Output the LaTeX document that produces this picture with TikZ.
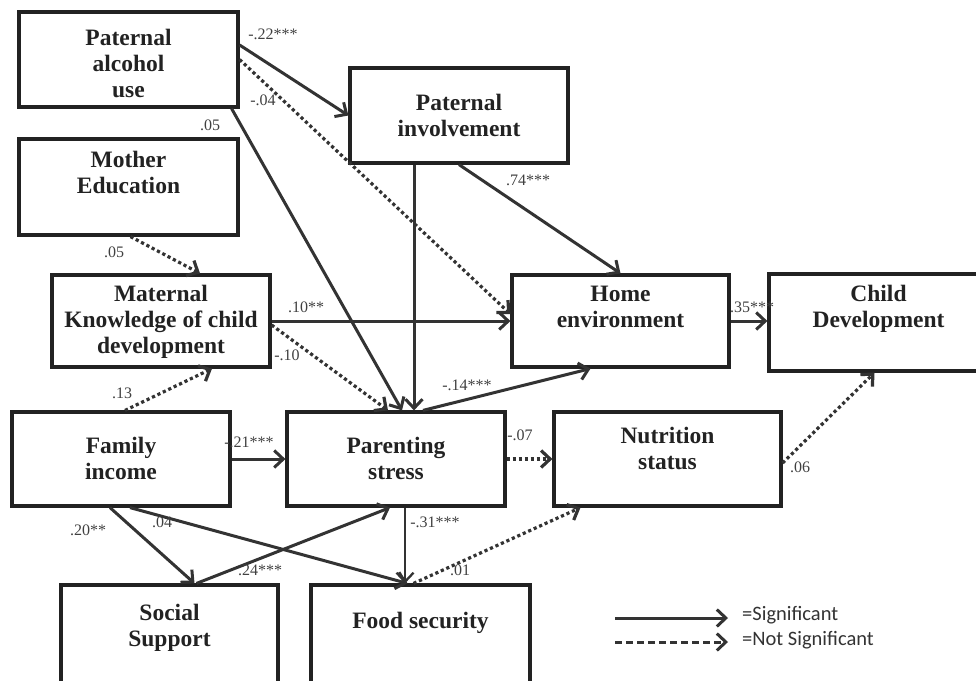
\documentclass[tikz,border=0pt]{standalone}
\usepackage{fontspec}
\setmainfont{Liberation Serif}
\newfontfamily\legendfont{Carlito}
\usetikzlibrary{arrows.meta}

\definecolor{boxc}{HTML}{222222}
\definecolor{linec}{HTML}{333333}
\definecolor{lbl}{HTML}{404040}

% box text: width, height, first baseline from top, lines
\newcommand{\boxlines}[4]{\parbox[c][#2pt][t]{#1pt}{\centering\rule{0pt}{#3pt}#4}}

\begin{document}
\begin{tikzpicture}[x=1pt,y=-1pt,
var/.style={draw=boxc,line width=3.2pt,inner sep=0pt,text=boxc,font=\bfseries\fontsize{23.5}{26}\selectfont},
sig/.style={draw=linec,line width=3pt,-{Straight Barb[length=9pt,width=17pt]}},
nonsig/.style={sig,line width=3.2pt,dash pattern=on 3.2pt off 2.8pt},
coef/.style={inner sep=0pt,text=lbl,font=\fontsize{16}{16}\selectfont},
legend/.style={inner sep=0pt,anchor=west,text=linec,font=\legendfont\fontsize{20.5}{20}\selectfont}]
\clip (0,0) rectangle (976,680);

% variables
\node[var] (pa) at (128.5,59.5) {\boxlines{219}{95}{33}{Paternal\\alcohol\\use}};
\node[var] (me) at (128.5,187) {\boxlines{219}{96}{28}{Mother\\Education}};
\node[var] (pi) at (459,115.5) {\boxlines{218}{95}{42}{Paternal\\involvement}};
\node[var] (mk) at (161,321) {\boxlines{218}{92}{26}{Maternal\\Knowledge of child\\development}};
\node[var] (he) at (620.5,321) {\boxlines{217}{92}{26}{Home\\environment}};
\node[var] (cd) at (878.5,322.5) {\boxlines{219}{97}{27}{Child\\Development}};
\node[var] (fi) at (121,459) {\boxlines{218}{94}{41}{Family\\income}};
\node[var] (ps) at (396,459) {\boxlines{218}{94}{41}{Parenting\\stress}};
\node[var] (nut) at (667.5,459) {\boxlines{227}{94}{31}{Nutrition\\status}};
\node[var] (ss) at (169.5,634) {\boxlines{217}{98}{35}{Social\\Support}};
\node[var] (fs) at (420.5,634) {\boxlines{219}{98}{43}{Food security}};

% paths
\draw[sig] ([yshift=14.5]pa.east) -- (pi.west);
\draw[nonsig] (pa.east) -- ([yshift=7]he.west);
\draw[sig] ([xshift=-8]pa.south east) -- ([xshift=6]ps.north);
\draw[nonsig] ([xshift=2]me.south) -- ([xshift=39]mk.north);
\draw[sig] ([xshift=-45]pi.south) -- ([xshift=-45]pi.south |- ps.north);
\draw[sig] (pi.south) -- (he.north);
\draw[sig] (mk.east) -- (he.west);
\draw[nonsig] ([yshift=-4]mk.east) -- ([xshift=-8]ps.north);
\draw[nonsig] ([xshift=4]fi.north) -- ([xshift=51]mk.south);
\draw[sig] ([xshift=27]ps.north) -- ([xshift=-30]he.south);
\draw[sig] (he.east) -- (he.east -| cd.west);
\draw[sig] (fi.east) -- (ps.west);
\draw[nonsig] (ps.east) -- (nut.west);
\draw[nonsig] ([yshift=-4]nut.east) -- ([xshift=-4]cd.south);
\draw[sig] ([xshift=-11]fi.south) -- ([xshift=25]ss.north);
\draw[sig] ([xshift=9]fi.south) -- ([xshift=-13]fs.north);
\draw[sig] ([xshift=27]ss.north) -- ([xshift=-6]ps.south);
\draw[sig,line width=2.3pt] ([xshift=9]ps.south) -- ([xshift=9]ps.south |- fs.north);
\draw[nonsig] ([xshift=-7]fs.north) -- ([xshift=-87]nut.south);

% coefficients
\foreach \nm/\px/\py/\txt in {w1/273/34/-.22***, w2/263/100/-.04, w3/210/125/.05,
  w4/114/252/.05, w5/122/393/.13, w6/306/307/.10**, w7/287/355/-.10,
  w8/467/385/-.14***, w9/249/442/-.21***, w10/528/180/.74***, w11/752/307/.35***,
  w12/520/435/-.07, w13/800/467/.06, w14/88/530/.20**, w15/162/522/.04,
  w16/260/570/.24***, w17/435/522/-.31***, w18/460/570/.01}
  \node[coef] (\nm) at (\px,\py) {\txt};

% legend
\coordinate (s0) at (615,618);
\coordinate (s1) at (728,618);
\coordinate (n0) at (615,642);
\coordinate (n1) at (728,642);
\draw[sig] (s0) -- (s1);
\draw[sig,dash pattern=on 7pt off 4pt] (n0) -- (n1);
\node[legend] (sigtxt) at (742,615) {=Significant};
\node[legend] (nstxt) at (742,640) {=Not Significant};
\end{tikzpicture}
\end{document}
